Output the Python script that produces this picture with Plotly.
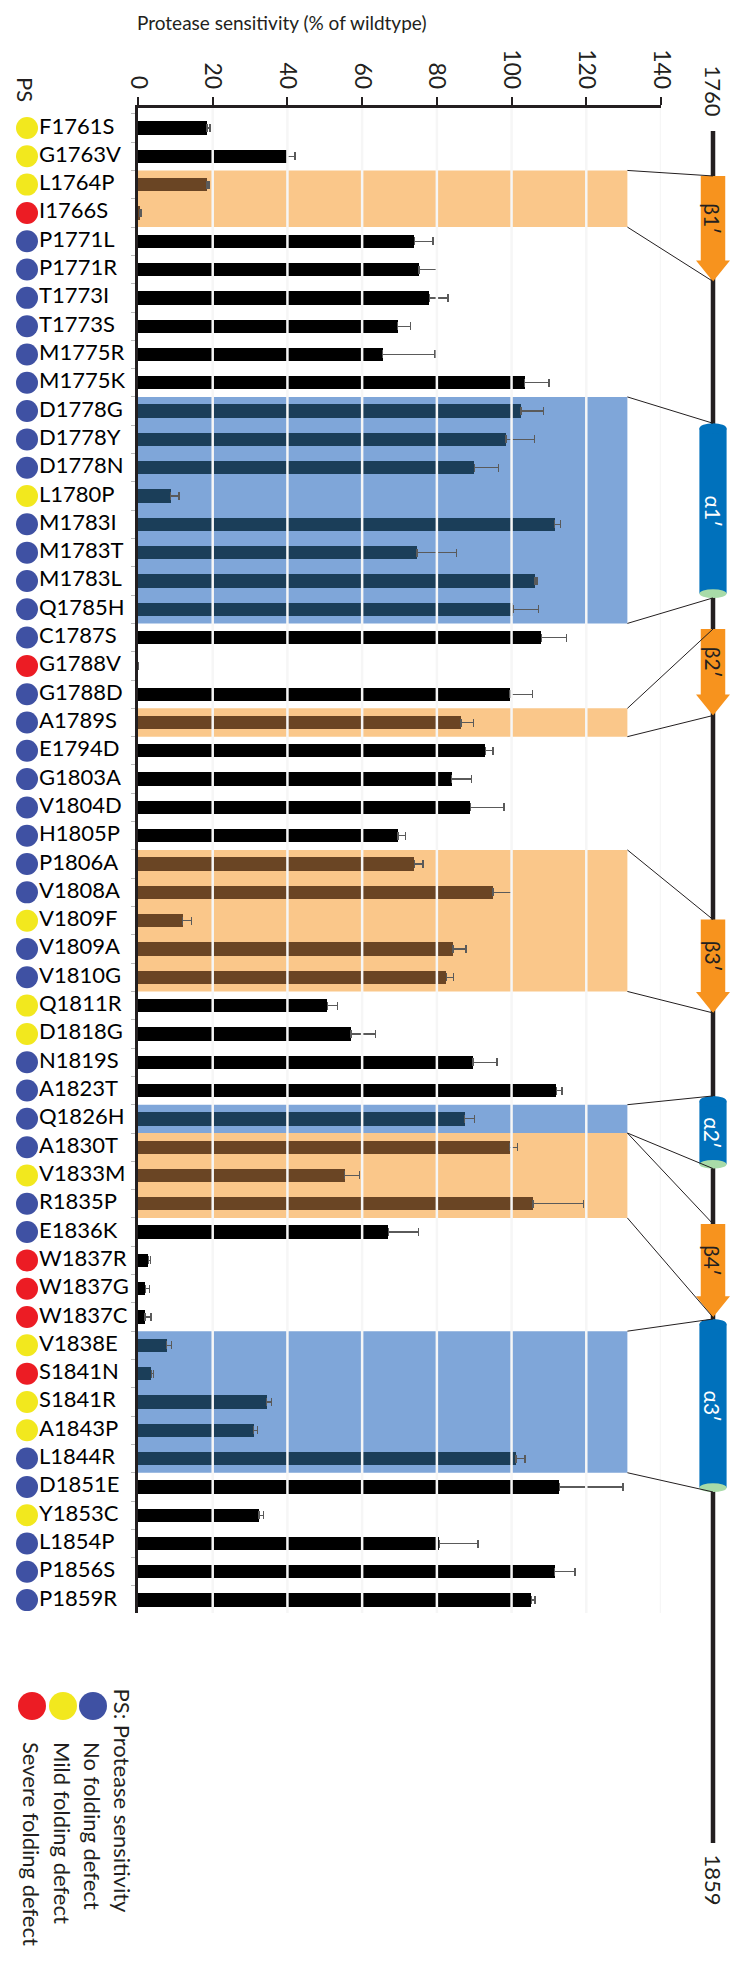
import plotly.graph_objects as go

# ---------------- data ----------------
mutations = ["F1761S", "G1763V", "L1764P", "I1766S", "P1771L", "P1771R", "T1773I", "T1773S",
             "M1775R", "M1775K", "D1778G", "D1778Y", "D1778N", "L1780P", "M1783I", "M1783T",
             "M1783L", "Q1785H", "C1787S", "G1788V", "G1788D", "A1789S", "E1794D", "G1803A",
             "V1804D", "H1805P", "P1806A", "V1808A", "V1809F", "V1809A", "V1810G", "Q1811R",
             "D1818G", "N1819S", "A1823T", "Q1826H", "A1830T", "V1833M", "R1835P", "E1836K",
             "W1837R", "W1837G", "W1837C", "V1838E", "S1841N", "S1841R", "A1843P", "L1844R",
             "D1851E", "Y1853C", "L1854P", "P1856S", "P1859R"]
ps_class = ["mild", "mild", "mild", "severe", "none", "none", "none", "none",
            "none", "none", "none", "none", "none", "mild", "none", "none",
            "none", "none", "none", "severe", "none", "none", "none", "none",
            "none", "none", "none", "none", "mild", "none", "none", "mild",
            "mild", "none", "none", "none", "none", "mild", "none", "none",
            "severe", "severe", "severe", "mild", "severe", "mild", "mild", "none",
            "none", "mild", "none", "none", "none"]
values = [18.5, 40, 18.5, 0.5, 74, 75.2, 78, 69.5, 65.5, 103.5, 102.5, 98.5, 90, 8.7,
          111.5, 74.7, 106.3, 100.5, 108, 0, 99.6, 86.5, 93, 84, 89, 69.6, 74, 95, 12,
          84.3, 82.5, 50.7, 57, 89.7, 112, 87.4, 99.5, 55.3, 105.7, 67, 2.8, 2, 1.9, 7.7,
          3.6, 34.4, 31, 101.2, 112.8, 32.4, 80.7, 111.5, 105.3]
errors = [0.8, 2, 0.5, 0.5, 5, 5, 5, 3.5, 14, 6.5, 6, 7.7, 6.5, 2.3, 1.6, 10.5, 0.5, 6.7,
          6.7, 0, 6, 3.4, 2, 5.3, 9, 2, 2.3, 5, 2.3, 3.5, 2, 2.7, 6.6, 6.4, 1.5, 2.7, 2,
          4, 13.6, 8, 0.6, 1, 1.6, 1.3, 0.5, 1.3, 0.9, 2.4, 17, 1.1, 10.3, 5.5, 1]
x_ticks = [0, 20, 40, 60, 80, 100, 120, 140]

# secondary structure (residue numbers)
residue_first, residue_last = 1760, 1859
ss_labels = ["β1′", "α1′", "β2′", "β3′", "α2′", "β4′", "α3′"]
ss_types = ["strand", "helix", "strand", "strand", "helix", "strand", "helix"]
ss_start = [1762.6, 1776.9, 1788.8, 1805.6, 1815.8, 1823.2, 1828.7]
ss_end = [1768.7, 1787.0, 1793.8, 1811.0, 1820.0, 1828.6, 1838.7]
# shaded mutation blocks, each linked to the element above
shade_first = ["L1764P", "D1778G", "A1789S", "P1806A", "Q1826H", "A1830T", "V1838E"]
shade_last = ["I1766S", "Q1785H", "A1789S", "V1810G", "Q1826H", "R1835P", "L1844R"]
SHADE_MAX = 131

legend_classes = ["severe", "mild", "none"]
legend_texts = {"none": "No folding defect", "mild": "Mild folding defect",
                "severe": "Severe folding defect"}

# ---------------- style ----------------
W, H = 730, 1967
FONT = "Lato"
INK = "#231f20"
PS_COLORS = {"none": "#3F51A3", "mild": "#F2E81E", "severe": "#EC1C24"}
SHADE_COLORS = {"strand": "#FAC78A", "helix": "#7FA6D9"}
BAR_COLORS = {"strand": "#6A4524", "helix": "#1B3E59", None: "#000000"}
SS_COLORS = {"strand": "#F7931E", "helix": "#0071BC", "cap": "#A8DBA8"}


def xp(px):
    return px / W


def yp(px):
    return 1 - px / H


# main axes geometry
X_DOM = [xp(138), xp(661)]
X_RANGE = [0, 140]
Y_DOM = [yp(1613), yp(108)]
Y_RANGE = [52.455, -0.706]
# structure axes geometry
RES_PX_TOP, RES_PX_BOT = 131, 1843
k = (RES_PX_BOT - RES_PX_TOP) / (residue_last - residue_first)
Y2_RANGE = [residue_first + (H - RES_PX_TOP) / k, residue_first - RES_PX_TOP / k]
Y2_DOM = [0, 1]
X2_DOM = [xp(696), xp(730)]
X2_RANGE = [-1, 1]


def to_paper(v, dom, rng):
    return dom[0] + (v - rng[0]) / (rng[1] - rng[0]) * (dom[1] - dom[0])


n = len(mutations)
idx = {m: i for i, m in enumerate(mutations)}
row_type = [None] * n
for f, l, t in zip(shade_first, shade_last, ss_types):
    for i in range(idx[f], idx[l] + 1):
        row_type[i] = t
bar_colors = [BAR_COLORS[t] for t in row_type]

fig = go.Figure()

fig.add_trace(go.Bar(
    x=values, y=mutations, orientation="h", width=0.47,
    marker=dict(color=bar_colors, line_width=0),
    error_x=dict(type="data", array=errors, arrayminus=[0] * n, symmetric=False,
                 color="#5a5a5a", thickness=1.3, width=4),
    xaxis="x", yaxis="y", hoverinfo="skip", showlegend=False))

# PS circles and labels on the left
fig.add_trace(go.Scatter(
    x=[27] * n, y=mutations, mode="markers",
    marker=dict(size=22, color=[PS_COLORS[c] for c in ps_class], line_width=0),
    xaxis="x3", yaxis="y", hoverinfo="skip", showlegend=False))
fig.add_trace(go.Scatter(
    x=[39] * n, y=mutations, mode="text", text=mutations, textposition="middle right",
    textfont=dict(size=22, color="black", family=FONT),
    xaxis="x3", yaxis="y", hoverinfo="skip", showlegend=False))

# legend circles (pixel canvas)
fig.add_trace(go.Scatter(
    x=[32, 63, 93], y=[1706] * 3, mode="markers",
    marker=dict(size=28, color=[PS_COLORS[c] for c in legend_classes], line_width=0),
    xaxis="x4", yaxis="y4", hoverinfo="skip", showlegend=False))

shapes = []
annotations = []

# shaded blocks
for f, l, t in zip(shade_first, shade_last, ss_types):
    shapes.append(dict(type="rect", xref="x", yref="y", x0=0, x1=SHADE_MAX,
                       y0=idx[f] - 0.5, y1=idx[l] + 0.5, fillcolor=SHADE_COLORS[t],
                       line_width=0, layer="below"))

# white grid lines above bars
for t in x_ticks[1:]:
    shapes.append(dict(type="line", xref="x", yref="y domain", x0=t, x1=t, y0=0, y1=1,
                       line=dict(color="#f6f6f6", width=2.5), layer="above"))

# backbone
shapes.append(dict(type="line", xref="x2", yref="y2", x0=0, x1=0,
                   y0=residue_first, y1=residue_last, line=dict(color=INK, width=4.5)))

HEAD = 1.21
for lab, t, s, e in zip(ss_labels, ss_types, ss_start, ss_end):
    if t == "strand":
        hs = e - HEAD
        path = (f"M -0.72 {s} L 0.72 {s} L 0.72 {hs} L 1.0 {hs} L 0 {e} "
                f"L -1.0 {hs} L -0.72 {hs} Z")
        shapes.append(dict(type="path", xref="x2", yref="y2", path=path,
                           fillcolor=SS_COLORS["strand"], line_width=0))
        mid = (s + hs) / 2
        tcol = INK
    else:
        shapes.append(dict(type="rect", xref="x2", yref="y2", x0=-0.8, x1=0.8,
                           y0=s + 0.3, y1=e - 0.25, fillcolor=SS_COLORS["helix"], line_width=0))
        shapes.append(dict(type="circle", xref="x2", yref="y2", x0=-0.8, x1=0.8,
                           y0=s, y1=s + 0.6, fillcolor=SS_COLORS["helix"], line_width=0))
        shapes.append(dict(type="circle", xref="x2", yref="y2", x0=-0.8, x1=0.8,
                           y0=e - 0.5, y1=e, fillcolor=SS_COLORS["cap"], line_width=0))
        mid = (s + e) / 2
        tcol = "white"
    annotations.append(dict(xref="x2", yref="y2", x=0, y=mid, text=lab, showarrow=False,
                            textangle=90, xanchor="center", yanchor="middle",
                            font=dict(size=21, color=tcol, family=FONT)))

# connectors between shaded blocks and structure elements
xa = to_paper(SHADE_MAX, X_DOM, X_RANGE)
xb = to_paper(0, X2_DOM, X2_RANGE)
for f, l, s, e in zip(shade_first, shade_last, ss_start, ss_end):
    for yi, r in ((idx[f] - 0.5, s), (idx[l] + 0.5, e)):
        shapes.append(dict(type="line", xref="paper", yref="paper",
                           x0=xa, y0=to_paper(yi, Y_DOM, Y_RANGE),
                           x1=xb, y1=to_paper(r, Y2_DOM, Y2_RANGE),
                           line=dict(color=INK, width=1)))


def txt(x, y, text, size, angle=0, xa_="center", ya_="middle", xref="paper"):
    annotations.append(dict(xref=xref, yref="paper", x=x, y=y, text=text, showarrow=False,
                            textangle=angle, xanchor=xa_, yanchor=ya_,
                            font=dict(size=size, color=INK, family=FONT)))


txt(xp(282), yp(22), "Protease sensitivity (% of wildtype)", 19)
txt(xp(25), yp(89), "PS", 22, 90)
txt(0, yp(118), str(residue_first), 22, 90, ya_="bottom", xref="x2")
txt(0, yp(1852), str(residue_last), 22, 90, ya_="top", xref="x2")
txt(xp(122), yp(1686), "PS: Protease sensitivity", 22, 90, ya_="top")
for xpx, c in zip([32, 63, 93], legend_classes):
    txt(xp(xpx), yp(1740), legend_texts[c], 22, 90, ya_="top")

fig.update_layout(
    width=W, height=H, margin=dict(l=0, r=0, t=0, b=0),
    paper_bgcolor="white", plot_bgcolor="rgba(0,0,0,0)",
    font=dict(family=FONT, color=INK),
    showlegend=False, bargap=0,
    xaxis=dict(domain=X_DOM, range=X_RANGE, side="top", anchor="y", tickvals=x_ticks,
               tickangle=90, ticks="outside", ticklen=8, tickwidth=2, tickcolor=INK,
               showline=True, linecolor=INK, linewidth=2.5, showgrid=True,
               gridcolor="#ececec", gridwidth=1, zeroline=False,
               tickfont=dict(size=23, color=INK, family=FONT), automargin=False),
    yaxis=dict(domain=Y_DOM, range=Y_RANGE, type="category", categoryorder="array",
               categoryarray=mutations, showticklabels=False, ticks="outside",
               tickson="boundaries", ticklen=4, tickcolor="#bbbbbb", showline=True,
               linecolor=INK, linewidth=3, showgrid=False, anchor="x", automargin=False),
    xaxis2=dict(domain=X2_DOM, range=X2_RANGE, visible=False, anchor="y2"),
    yaxis2=dict(domain=Y2_DOM, range=Y2_RANGE, visible=False, anchor="x2"),
    xaxis3=dict(domain=[0, xp(136)], range=[0, 136], visible=False, anchor="y"),
    xaxis4=dict(domain=[0, 1], range=[0, W], visible=False, anchor="y4"),
    yaxis4=dict(domain=[0, 1], range=[H, 0], visible=False, anchor="x4"),
    shapes=shapes, annotations=annotations,
)

fig.write_html("out.html", config={"displayModeBar": False},
               post_script="document.body.style.margin='0';document.body.style.overflow='hidden';")
